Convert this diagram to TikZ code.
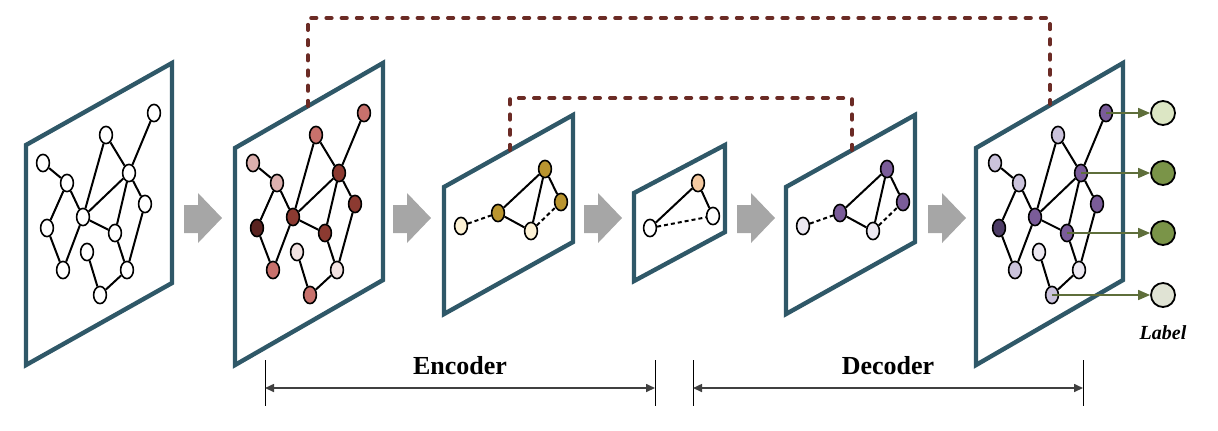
\documentclass[tikz,border=0pt]{standalone}
\usepackage{fontspec}
\setmainfont{Liberation Serif}
\usepackage{tikz}
\usetikzlibrary{shapes.geometric,arrows.meta}
\definecolor{panelc}{HTML}{2F5868}
\definecolor{skipc}{HTML}{6B2B25}
\definecolor{flowc}{HTML}{A6A6A6}
\definecolor{pka}{HTML}{F2E2E1}
\definecolor{pkb}{HTML}{DDB0AE}
\definecolor{pkc}{HTML}{C8716C}
\definecolor{pkd}{HTML}{8C3A31}
\definecolor{pke}{HTML}{5A2320}
\definecolor{pua}{HTML}{CBC3DC}
\definecolor{pub}{HTML}{ECE8F1}
\definecolor{pud}{HTML}{7A5C99}
\definecolor{pue}{HTML}{4D3C66}
\definecolor{gold}{HTML}{BA952F}
\definecolor{cream}{HTML}{FDF2D5}
\definecolor{peach}{HTML}{F4C9A0}
\definecolor{olive}{HTML}{5E6E3A}
\definecolor{lgreen}{HTML}{DCE6C4}
\definecolor{dgreen}{HTML}{7A9448}
\definecolor{lgrey}{HTML}{E0E3D4}
\tikzstyle{gnode} = [ellipse, draw=black, line width=0.8pt, fill=white, inner sep=0pt, minimum width=6.4pt, minimum height=8.6pt]
\tikzstyle{gedge} = [line width=1pt]
\tikzstyle{gweak} = [line width=1pt, dash pattern=on 2pt off 1.5pt]
\tikzstyle{panel} = [draw=panelc, line width=2.2pt, line join=miter]
\tikzstyle{skiplink} = [draw=skipc, line width=2pt, line cap=round, dash pattern=on 2.6pt off 5pt]
\tikzstyle{flow} = [fill=flowc]
\tikzstyle{outarrow} = [olive, line width=0.8pt, -{Triangle[length=6pt,width=5pt]}]
\tikzstyle{labnode} = [circle, draw=black, line width=0.9pt, minimum size=12pt, inner sep=0pt]
\tikzstyle{dimline} = [line width=0.8pt, draw=black!75, {Triangle[length=4.5pt,width=4pt]}-{Triangle[length=4.5pt,width=4pt]}]
\tikzstyle{dimtick} = [line width=0.5pt]
\tikzstyle{title} = [font=\bfseries\fontsize{13}{15}\selectfont]
\begin{document}
\begin{tikzpicture}[x=0.5pt,y=-0.5pt]
\useasboundingbox (0,0) rectangle (1218,430);
\draw[panel] (26,145) -- (172,63) -- (172,283) -- (26,365) -- cycle;
\draw[panel] (235,148) -- (383,63) -- (383,280) -- (235,365) -- cycle;
\draw[panel] (444,187) -- (573,115) -- (573,242) -- (444,314) -- cycle;
\draw[panel] (634,193) -- (725,145) -- (725,232) -- (634,281) -- cycle;
\draw[panel] (786,187) -- (915,115) -- (915,242) -- (786,314) -- cycle;
\draw[panel] (976,148) -- (1123,63) -- (1123,280) -- (976,365) -- cycle;
\foreach \x in {203,412,603,756,947}
  \fill[flow] ({\x-19},205) -- ({\x-5},205) -- ({\x-5},193) -- ({\x+19},218) -- ({\x-5},243) -- ({\x-5},233) -- ({\x-19},233) -- cycle;
\coordinate (s2) at (308,106);
\coordinate (s6) at (1050,104);
\coordinate (s3) at (510,150);
\coordinate (s5) at (852,150);
\draw[skiplink] (s2) -- ++(0,-88) -| (s6);
\draw[skiplink] (s3) -- ++(0,-52) -| (s5);
\foreach \n/\x/\y/\cb/\cf in {a/43/163/pkb/pua, b/67/183/pkb/pua, c/47/228/pke/pue, d/63/270/pkc/pua, e/83/217/pkd/pud, f/106/135/pkc/pua, g/129/173/pkd/pud, h/154/113/pkc/pud, i/145/204/pkd/pud, j/115/233/pkd/pud, k/87/252/pka/pub, l/127/270/pka/pub, m/100/295/pkc/pua}{
  \node[gnode] (\n1) at (\x,\y) {};
  \node[gnode, fill=\cb] (\n2) at ({\x+210},\y) {};
  \node[gnode, fill=\cf] (\n6) at ({\x+952},\y) {};
}
\foreach \u/\v in {a/b, b/c, b/e, c/d, d/e, e/f, e/g, e/j, f/g, g/h, g/j, g/i, j/l, i/l, k/m, m/l}{
  \draw[gedge] (\u1) -- (\v1);
  \draw[gedge] (\u2) -- (\v2);
  \draw[gedge] (\u6) -- (\v6);
}
\foreach \n/\x/\y/\cg/\cp in {p/461/226/cream/pub, q/498/213/gold/pud, r/545/169/gold/pud, s/561/202/gold/pud, t/531/231/cream/pub}{
  \node[gnode, fill=\cg] (\n3) at (\x,\y) {};
  \node[gnode, fill=\cp] (\n5) at ({\x+342},\y) {};
}
\foreach \k in {3,5}{
  \draw[gedge] (q\k) -- (r\k);
  \draw[gedge] (q\k) -- (t\k);
  \draw[gedge] (r\k) -- (t\k);
  \draw[gedge] (r\k) -- (s\k);
  \draw[gweak] (p\k) -- (q\k);
  \draw[gweak] (t\k) -- (s\k);
}
\node[gnode, fill=peach] (u4) at (698,183) {};
\node[gnode] (v4) at (650,228) {};
\node[gnode] (w4) at (713,216) {};
\draw[gedge] (u4) -- (v4);
\draw[gedge] (u4) -- (w4);
\draw[gweak] (v4) -- (w4);
\node[labnode, fill=lgreen] (o1) at (1163,113) {};
\node[labnode, fill=dgreen] (o2) at (1163,173) {};
\node[labnode, fill=dgreen] (o3) at (1163,233) {};
\node[labnode, fill=lgrey] (o4) at (1163,295) {};
\draw[outarrow] (h6.center) -- (o1);
\draw[outarrow] (g6.center) -- (o2);
\draw[outarrow] (j6.center) -- (o3);
\draw[outarrow] (m6.center) -- (o4);
\node[font=\bfseries\itshape\fontsize{10}{12}\selectfont] (lab) at (1163,333) {Label};
\coordinate (encl) at (265,388);
\coordinate (encr) at (655,388);
\coordinate (decl) at (693,388);
\coordinate (decr) at (1083,388);
\foreach \x in {265,655,693,1083}
  \draw[dimtick] (\x,360) -- (\x,406);
\draw[dimline] (encl) -- (encr);
\draw[dimline] (decl) -- (decr);
\node[title] (enc) at (460,366) {Encoder};
\node[title] (dec) at (888,366) {Decoder};
\end{tikzpicture}
\end{document}
